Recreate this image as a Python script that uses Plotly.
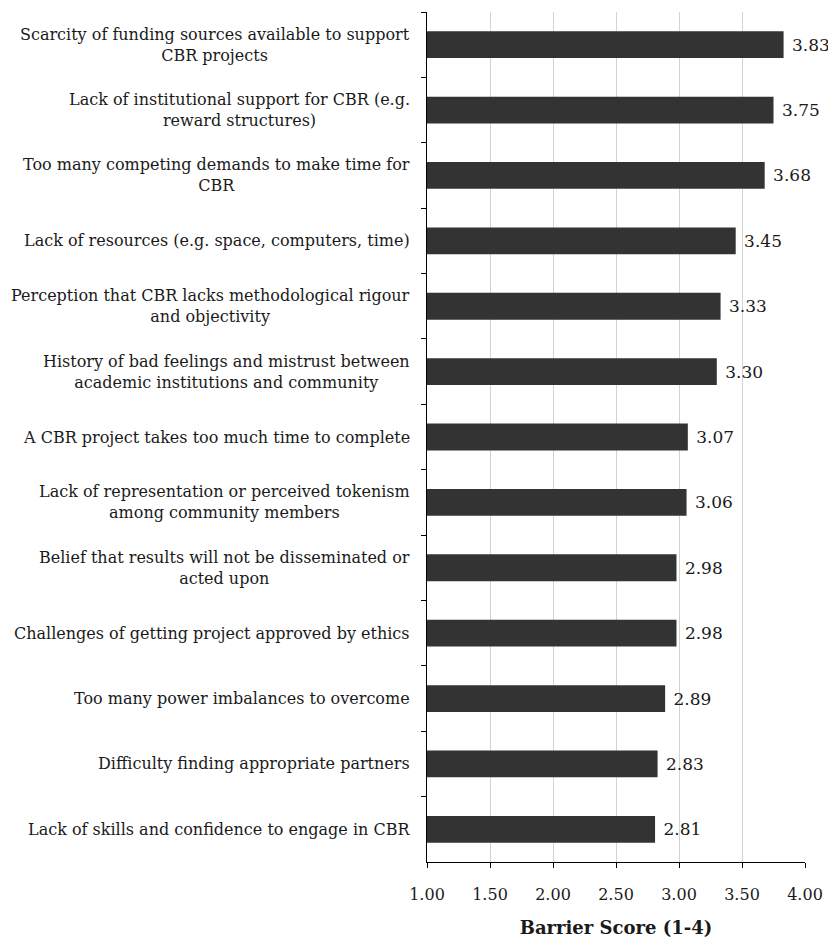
import plotly.graph_objects as go

# Barrier items (top to bottom) and their mean barrier scores (1-4 scale)
barriers = [
    "Scarcity of funding sources available to support<br>CBR projects",
    "Lack of institutional support for CBR (e.g.<br>reward structures)",
    "Too many competing demands to make time for<br>CBR",
    "Lack of resources (e.g. space, computers, time)",
    "Perception that CBR lacks methodological rigour<br>and objectivity",
    "History of bad feelings and mistrust between<br>academic institutions and community",
    "A CBR project takes too much time to complete",
    "Lack of representation or perceived tokenism<br>among community members",
    "Belief that results will not be disseminated or<br>acted upon",
    "Challenges of getting project approved by ethics",
    "Too many power imbalances to overcome",
    "Difficulty finding appropriate partners",
    "Lack of skills and confidence to engage in CBR",
]
scores = [3.83, 3.75, 3.68, 3.45, 3.33, 3.30, 3.07, 3.06, 2.98, 2.98, 2.89, 2.83, 2.81]
x_ticks = [1.0, 1.5, 2.0, 2.5, 3.0, 3.5, 4.0]

FONT = "DejaVu Serif"
BAR = "#333333"
TEXT = "#1a1a1a"

cat_ids = [f"c{i}" for i in range(len(barriers))]

fig = go.Figure(
    go.Bar(
        x=scores,
        y=cat_ids,
        orientation="h",
        marker=dict(color=BAR, line=dict(width=0)),
        texttemplate="\u00a0%{x:.2f}",
        textposition="outside",
        textfont=dict(family=FONT, size=17, color=TEXT),
        constraintext="none",
        cliponaxis=False,
        hoverinfo="skip",
    )
)

# Category labels: right-anchored blocks with centred lines
for cid, label in zip(cat_ids, barriers):
    fig.add_annotation(
        x=0, xref="paper", y=cid, yref="y",
        text=label, showarrow=False,
        xanchor="right", yanchor="middle", align="center",
        xshift=-15,
        font=dict(family=FONT, size=16, color=TEXT),
    )

fig.update_layout(
    width=828, height=941,
    margin=dict(l=427, r=23, t=12, b=79, autoexpand=False),
    paper_bgcolor="white", plot_bgcolor="white",
    bargap=0.59,
    showlegend=False,
    font=dict(family=FONT, color=TEXT),
)
fig.update_xaxes(
    range=[1, 4],
    tickvals=x_ticks,
    tickformat=".2f",
    automargin=False,
    showgrid=True, gridcolor="#d3d3d3", gridwidth=1,
    zeroline=False,
    showline=True, linecolor="#000000", linewidth=1,
    ticks="outside", ticklen=5, tickcolor="#000000",
    tickfont=dict(family=FONT, size=16, color=TEXT),
    ticklabelstandoff=13,
    title=dict(text="<b>Barrier Score (1-4)</b>", font=dict(family=FONT, size=18, color=TEXT), standoff=18),
)
fig.update_yaxes(
    categoryorder="array", categoryarray=cat_ids,
    autorange="reversed",
    automargin=False,
    showticklabels=False,
    tickson="boundaries",
    ticks="outside", ticklen=5, tickcolor="#000000",
    showline=True, linecolor="#000000", linewidth=1,
    showgrid=False, zeroline=False,
)

fig.write_html("out.html")
